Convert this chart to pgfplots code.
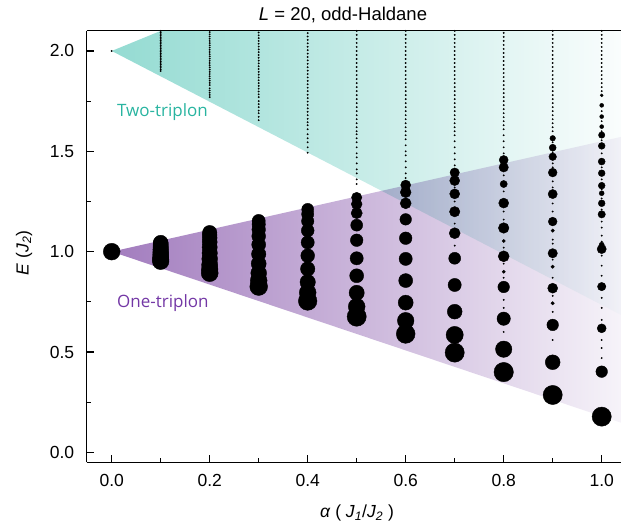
\documentclass[border=0pt]{standalone}
\usepackage{pgfplots}
\usepackage{pgfplotstable}
\pgfplotsset{compat=1.18}
\usepackage{fontspec}
\setmainfont{Liberation Sans}
\newfontfamily\labfont{Open Sans}
\definecolor{tealL}{RGB}{148,219,210}
\definecolor{tealR}{RGB}{250,253,253}
\definecolor{purpL}{RGB}{162,124,190}
\definecolor{purpR}{RGB}{246,243,249}
\definecolor{tealT}{RGB}{40,180,160}
\definecolor{purpT}{RGB}{115,55,165}

\pgfplotstableread{
a e r
0 1.0 8.4
0.1 1.045 7.4
0.1 1.040 7.5
0.1 1.033 7.6
0.1 1.023 7.7
0.1 1.011 7.8
0.1 0.998 7.9
0.1 0.985 8.0
0.1 0.971 8.1
0.1 0.961 8.2
0.1 0.952 8.3
0.2 1.095 7.2
0.2 1.084 7.3
0.2 1.069 7.4
0.2 1.048 7.5
0.2 1.022 7.6
0.2 0.993 7.7
0.2 0.964 7.9
0.2 0.934 8.1
0.2 0.912 8.3
0.2 0.893 8.5
0.3 1.153 6.6
0.3 1.136 6.7
0.3 1.110 6.8
0.3 1.077 6.9
0.3 1.035 7.0
0.3 0.988 7.2
0.3 0.940 7.5
0.3 0.893 7.9
0.3 0.856 8.4
0.3 0.826 8.9
0.4 1.211 6.0
0.4 1.187 6.1
0.4 1.152 6.2
0.4 1.105 6.4
0.4 1.046 6.6
0.4 0.980 6.9
0.4 0.914 7.2
0.4 0.848 7.7
0.4 0.796 8.4
0.4 0.754 9.3
0.5 1.270 5.2
0.5 1.237 5.4
0.5 1.192 5.6
0.5 1.132 6.0
0.5 1.057 6.3
0.5 0.967 6.6
0.5 0.880 7.0
0.5 0.795 7.6
0.5 0.726 8.4
0.5 0.676 9.6
0.6 1.332 5.0
0.6 1.296 5.4
0.6 1.241 5.5
0.6 1.161 5.8
0.6 1.067 6.3
0.6 0.964 6.6
0.6 0.856 7.0
0.6 0.746 7.5
0.6 0.656 8.3
0.6 0.590 9.4
0.7 1.394 4.7
0.7 1.354 5.0
0.7 1.288 5.0
0.7 1.199 5.2
0.7 1.092 5.5
0.7 0.967 6.0
0.7 0.834 6.6
0.7 0.701 7.4
0.7 0.585 8.6
0.7 0.497 9.6
0.8 1.457 4.5
0.8 1.420 4.7
0.8 1.337 3.6
0.8 1.242 5.0
0.8 1.118 5.3
0.8 0.977 5.5
0.8 0.824 5.8
0.8 0.666 6.7
0.8 0.514 8.2
0.8 0.400 9.7
0.8 1.053 1.6
0.8 0.900 1.6
0.9 1.565 2.8
0.9 1.518 3.5
0.9 1.473 3.8
0.9 1.394 4.4
0.9 1.287 4.6
0.9 1.150 4.4
0.9 0.992 4.7
0.9 0.818 5.0
0.9 0.635 5.8
0.9 0.449 7.4
0.9 0.286 9.6
0.9 1.105 1.7
0.9 0.925 1.7
0.9 0.743 1.7
1.0 1.779 1.5
1.0 1.729 2.0
1.0 1.673 2.0
1.0 1.623 2.0
1.0 1.581 3.2
1.0 1.527 3.4
1.0 1.449 3.5
1.0 1.391 3.4
1.0 1.329 3.4
1.0 1.291 2.5
1.0 1.241 3.4
1.0 1.186 3.7
1.0 1.035 2.5
1.0 1.013 4.6
1.0 0.826 4.2
1.0 0.618 4.5
1.0 0.402 5.8
1.0 0.178 9.6
}\bigdots

\begin{document}
\begin{tikzpicture}
\begin{axis}[
  at={(0pt,0pt)}, anchor=south west,
  scale only axis, width=534.3pt, height=431.7pt,
  xmin=-0.051, xmax=1.0394, ymin=-0.05, ymax=2.101,
  axis x line*=box, axis y line*=left,
  xtick pos=left, ytick pos=left,
  axis line style={-, line width=1.6pt, black},
  xtick={0,0.2,0.4,0.6,0.8,1.0}, minor xtick={0.1,0.3,0.5,0.7,0.9},
  ytick={0,0.5,1.0,1.5,2.0}, minor ytick={0.25,0.75,1.25,1.75},
  tick align=inside,
  major tick length=7pt, minor tick length=4pt,
  every tick/.style={line width=1.2pt, black},
  ticklabel style={font=\fontsize{17.5}{20}\selectfont},
  /pgf/number format/assume math mode=true,
  xticklabel style={/pgf/number format/.cd, fixed, fixed zerofill, precision=1, /tikz/.cd, yshift=-8pt},
  yticklabel style={/pgf/number format/.cd, fixed, fixed zerofill, precision=1, /tikz/.cd, xshift=-9pt},
  clip=true,
]
\addplot[draw=none, mark=none, left color=purpL, right color=purpR]
  coordinates {(0,1) (1.0394,1.5717) (1.0394,0.1477) (0,1)};
\addplot[draw=none, mark=none, left color=tealL, right color=tealR, blend mode=multiply]
  coordinates {(0,2) (0.101,2.101) (1.0394,2.101) (1.0394,0.685) (0,2)};

\addplot[only marks, mark=*, mark size=0.7pt, black] coordinates {
(0,2.0)
(0.1,1.900)(0.1,1.908)(0.1,1.916)(0.1,1.924)(0.1,1.932)(0.1,1.940)(0.1,1.948)(0.1,1.956)(0.1,1.964)(0.1,1.972)(0.1,1.980)(0.1,1.988)(0.1,1.996)(0.1,2.004)(0.1,2.012)(0.1,2.020)(0.1,2.028)(0.1,2.036)(0.1,2.044)(0.1,2.052)(0.1,2.060)(0.1,2.068)(0.1,2.076)(0.1,2.084)(0.1,2.092)(0.1,2.100)
(0.2,1.770)(0.2,1.781)(0.2,1.792)(0.2,1.803)(0.2,1.814)(0.2,1.830)(0.2,1.841)(0.2,1.852)(0.2,1.863)(0.2,1.874)(0.2,1.885)(0.2,1.896)(0.2,1.907)(0.2,1.918)(0.2,1.929)(0.2,1.940)(0.2,1.951)(0.2,1.962)(0.2,1.973)(0.2,1.984)(0.2,1.995)(0.2,2.006)(0.2,2.017)(0.2,2.028)(0.2,2.039)(0.2,2.050)(0.2,2.061)(0.2,2.072)(0.2,2.083)(0.2,2.094)
(0.3,1.655)(0.3,1.672)(0.3,1.690)(0.3,1.703)(0.3,1.720)(0.3,1.735)(0.3,1.750)(0.3,1.770)(0.3,1.784)(0.3,1.798)(0.3,1.812)(0.3,1.826)(0.3,1.840)(0.3,1.854)(0.3,1.868)(0.3,1.882)(0.3,1.896)(0.3,1.910)(0.3,1.924)(0.3,1.938)(0.3,1.952)(0.3,1.966)(0.3,1.980)(0.3,1.994)(0.3,2.008)(0.3,2.022)(0.3,2.036)(0.3,2.050)(0.3,2.064)(0.3,2.078)(0.3,2.092)
(0.4,1.493)(0.4,1.520)(0.4,1.545)(0.4,1.565)(0.4,1.585)(0.4,1.610)(0.4,1.630)(0.4,1.645)(0.4,1.662)(0.4,1.680)(0.4,1.697)(0.4,1.714)(0.4,1.731)(0.4,1.748)(0.4,1.765)(0.4,1.782)(0.4,1.800)(0.4,1.817)(0.4,1.834)(0.4,1.851)(0.4,1.868)(0.4,1.885)(0.4,1.902)(0.4,1.919)(0.4,1.936)(0.4,1.953)(0.4,1.970)(0.4,1.987)(0.4,2.004)(0.4,2.021)(0.4,2.038)(0.4,2.055)(0.4,2.072)(0.4,2.089)
(0.5,1.337)(0.5,1.360)(0.5,1.390)(0.5,1.410)(0.5,1.440)(0.5,1.470)(0.5,1.490)(0.5,1.520)(0.5,1.545)(0.5,1.565)(0.5,1.585)(0.5,1.600)(0.5,1.620)(0.5,1.640)(0.5,1.660)(0.5,1.680)(0.5,1.700)(0.5,1.720)(0.5,1.740)(0.5,1.760)(0.5,1.780)(0.5,1.800)(0.5,1.820)(0.5,1.840)(0.5,1.860)(0.5,1.880)(0.5,1.900)(0.5,1.920)(0.5,1.940)(0.5,1.960)(0.5,1.980)(0.5,2.000)(0.5,2.020)(0.5,2.040)(0.5,2.060)(0.5,2.080)(0.5,2.100)
(0.6,1.367)(0.6,1.390)(0.6,1.420)(0.6,1.450)(0.6,1.480)(0.6,1.500)(0.6,1.530)(0.6,1.560)(0.6,1.580)(0.6,1.600)(0.6,1.620)(0.6,1.640)(0.6,1.660)(0.6,1.680)(0.6,1.700)(0.6,1.720)(0.6,1.740)(0.6,1.760)(0.6,1.780)(0.6,1.800)(0.6,1.820)(0.6,1.840)(0.6,1.860)(0.6,1.880)(0.6,1.900)(0.6,1.920)(0.6,1.940)(0.6,1.960)(0.6,1.980)(0.6,2.000)(0.6,2.020)(0.6,2.040)(0.6,2.060)(0.6,2.080)(0.6,2.100)
(0.7,1.03)(0.7,1.14)(0.7,1.25)(0.7,1.32)(0.7,1.37)(0.7,1.430)(0.7,1.460)(0.7,1.490)(0.7,1.520)(0.7,1.550)(0.7,1.580)(0.7,1.600)(0.7,1.620)(0.7,1.640)(0.7,1.660)(0.7,1.680)(0.7,1.700)(0.7,1.720)(0.7,1.740)(0.7,1.760)(0.7,1.780)(0.7,1.800)(0.7,1.820)(0.7,1.840)(0.7,1.860)(0.7,1.880)(0.7,1.900)(0.7,1.920)(0.7,1.940)(0.7,1.960)(0.7,1.980)(0.7,2.000)(0.7,2.020)(0.7,2.040)(0.7,2.060)(0.7,2.080)(0.7,2.100)
(0.8,0.60)(0.8,0.72)(0.8,0.76)(0.8,0.87)(0.8,0.94)(0.8,1.02)(0.8,1.16)(0.8,1.20)(0.8,1.30)(0.8,1.38)(0.8,1.490)(0.8,1.520)(0.8,1.550)(0.8,1.580)(0.8,1.610)(0.8,1.630)(0.8,1.650)(0.8,1.670)(0.8,1.690)(0.8,1.710)(0.8,1.730)(0.8,1.750)(0.8,1.770)(0.8,1.790)(0.8,1.810)(0.8,1.830)(0.8,1.850)(0.8,1.870)(0.8,1.890)(0.8,1.910)(0.8,1.930)(0.8,1.950)(0.8,1.970)(0.8,1.990)(0.8,2.010)(0.8,2.030)(0.8,2.050)(0.8,2.070)(0.8,2.090)
(0.9,0.56)(0.9,0.70)(0.9,0.78)(0.9,0.87)(0.9,0.96)(0.9,1.04)(0.9,1.06)(0.9,1.20)(0.9,1.24)(0.9,1.32)(0.9,1.35)(0.9,1.42)(0.9,1.44)(0.9,1.495)(0.9,1.545)(0.9,1.600)(0.9,1.620)(0.9,1.640)(0.9,1.660)(0.9,1.680)(0.9,1.700)(0.9,1.720)(0.9,1.740)(0.9,1.760)(0.9,1.780)(0.9,1.800)(0.9,1.820)(0.9,1.840)(0.9,1.860)(0.9,1.880)(0.9,1.900)(0.9,1.920)(0.9,1.940)(0.9,1.960)(0.9,1.980)(0.9,2.000)(0.9,2.020)(0.9,2.040)(0.9,2.060)(0.9,2.080)(0.9,2.100)
(1.0,0.47)(1.0,0.52)(1.0,0.56)(1.0,0.66)(1.0,0.72)(1.0,0.77)(1.0,0.88)(1.0,0.93)(1.0,0.98)(1.0,1.05)(1.0,1.08)(1.0,1.12)(1.0,1.15)(1.0,1.21)(1.0,1.265)(1.0,1.31)(1.0,1.36)(1.0,1.42)(1.0,1.49)(1.0,1.555)(1.0,1.60)(1.0,1.65)(1.0,1.70)(1.0,1.800)(1.0,1.820)(1.0,1.840)(1.0,1.860)(1.0,1.880)(1.0,1.900)(1.0,1.920)(1.0,1.940)(1.0,1.960)(1.0,1.980)(1.0,2.000)(1.0,2.020)(1.0,2.040)(1.0,2.060)(1.0,2.080)(1.0,2.100)
};

\addplot[scatter, only marks, mark=*,
  scatter/use mapped color={draw=black, fill=black},
  visualization depends on={\thisrow{r} \as \rr},
  scatter/@pre marker code/.append style={/tikz/mark size=\rr pt}]
  table[x=a, y=e] {\bigdots};

\node[anchor=west, text=tealT, font=\labfont\fontsize{17}{20}\selectfont] at (axis cs:0.004,1.693) {Two-triplon};
\node[anchor=west, text=purpT, font=\labfont\fontsize{17}{20}\selectfont] at (axis cs:0.004,0.743) {One-triplon};
\end{axis}
\node[font=\fontsize{18.5}{21}\selectfont] at (256.3pt,447.4pt) {\textit{L} = 20, odd-Haldane};
\node[font=\fontsize{17.5}{20}\selectfont] at (270.3pt,-50.6pt) {\textit{α} ( \textit{J}\textsubscript{\textit{1}}/\textit{J}\textsubscript{\textit{2}} )};
\node[font=\fontsize{17.5}{20}\selectfont, rotate=90] at (-62.7pt,209.4pt) {\textit{E} (\textit{J}\textsubscript{\textit{2}})};
\pgfresetboundingbox
\path (-86.7pt,-64.6pt) rectangle (534.3pt,462.4pt);
\end{tikzpicture}
\end{document}
